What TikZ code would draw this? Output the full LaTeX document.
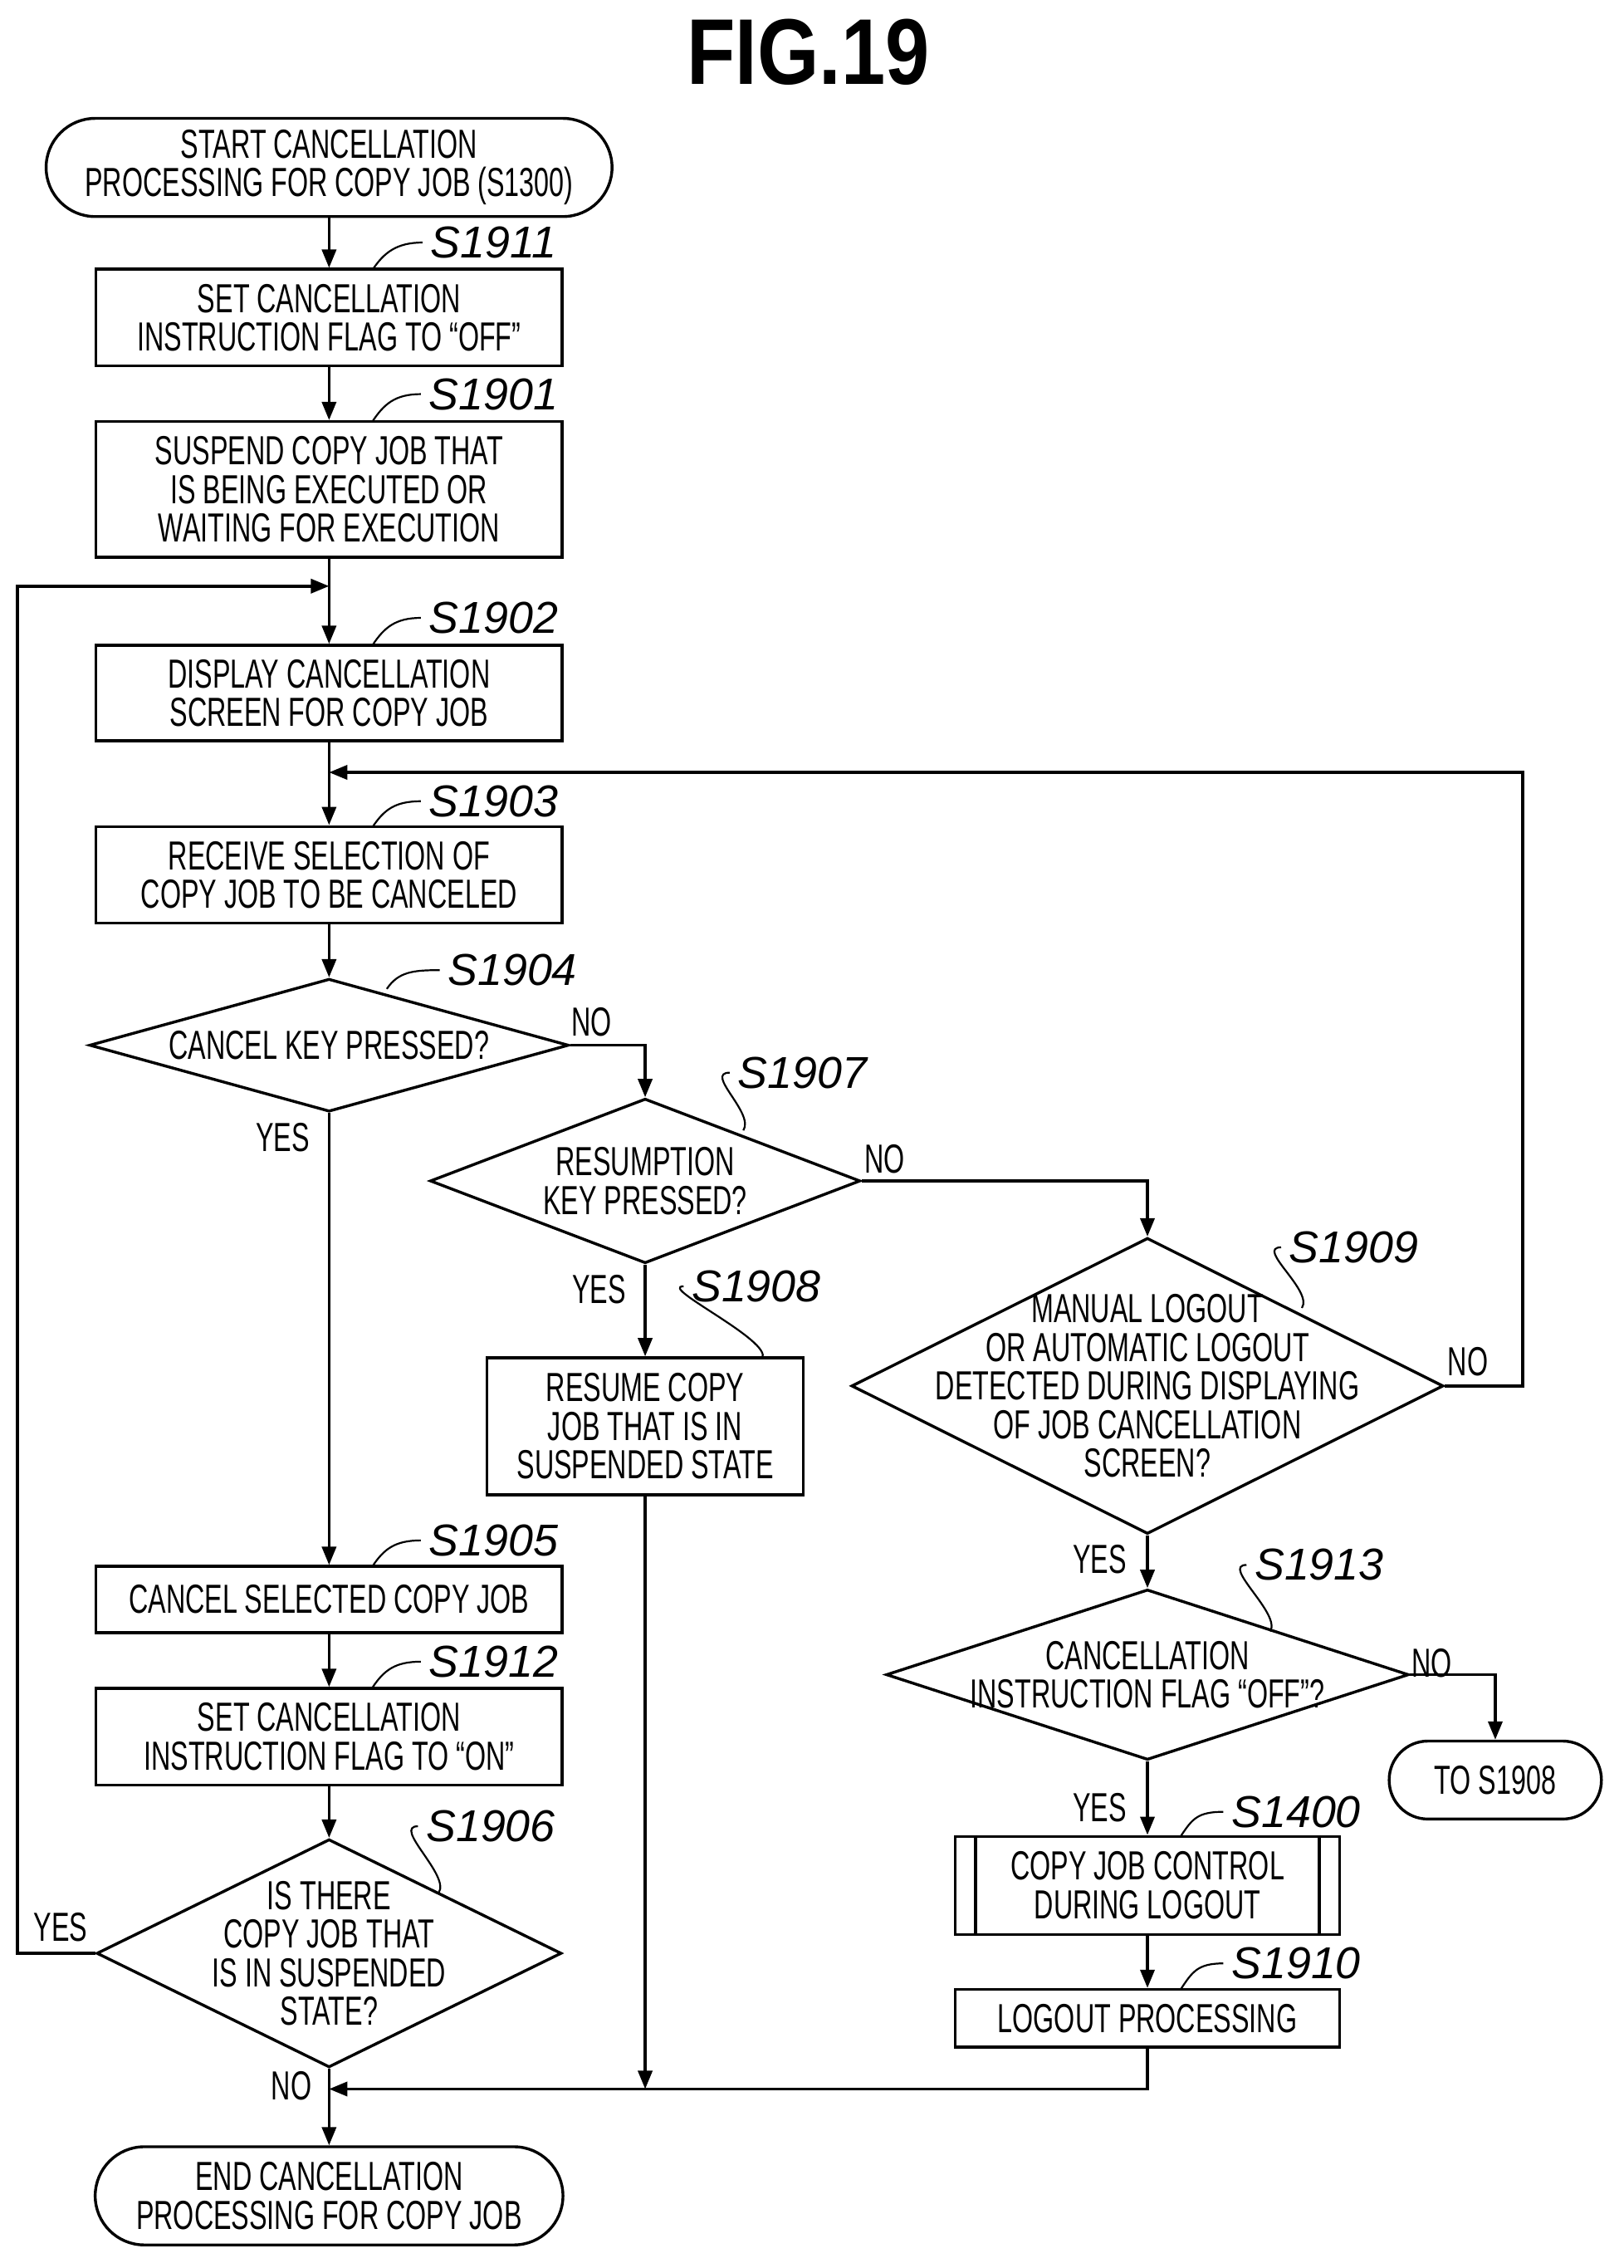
\documentclass[tikz,border=0pt]{standalone}
\usepackage{fontspec}
\setmainfont{Liberation Sans}[FakeStretch=0.66]
\newfontfamily\lblfont{Liberation Sans}
\newfontfamily\titlefont{Liberation Sans}[FakeStretch=0.85]
\usetikzlibrary{shapes.geometric,arrows.meta,positioning}
\tikzset{
  >={Triangle[length=9pt,width=7pt]},
  every path/.style={line width=1.4pt},
  box/.style={rectangle,draw,align=center,minimum width=8.075cm,font=\fontsize{20}{19}\selectfont},
  term/.style={rectangle,rounded corners=0.85cm,draw,align=center,font=\fontsize{20}{19}\selectfont},
  dec/.style={diamond,draw,inner sep=0pt},
  txt/.style={align=center,font=\fontsize{20}{19}\selectfont},
  steplabel/.style={font=\lblfont\itshape\fontsize{22}{22}\selectfont},
  yn/.style={font=\fontsize{20}{20}\selectfont}
}
\newcommand{\steplbl}[4]{% tick start, label position, name, text
  \node[steplabel] (#3) at (#2) {#4};
  \draw[line width=0.9pt] (#1) .. controls +(8,-12) and +(-18,0) .. (#3.west);
}
\begin{document}
\begin{tikzpicture}[x=0.025cm,y=-0.025cm]
\useasboundingbox (0,0) rectangle (1125,1571);
\node[font=\titlefont\bfseries\fontsize{46}{46}\selectfont] (title) at (560,36) {FIG.19};

% left column
\node[term,minimum width=9.8cm,minimum height=1.7cm] (start) at (228,116) {START CANCELLATION\\PROCESSING FOR COPY JOB (S1300)};
\node[box,minimum height=1.675cm] (s1911) at (228,220) {SET CANCELLATION\\INSTRUCTION FLAG TO “OFF”};
\node[box,minimum height=2.35cm] (s1901) at (228,339) {SUSPEND COPY JOB THAT\\IS BEING EXECUTED OR\\WAITING FOR EXECUTION};
\node[box,minimum height=1.65cm] (s1902) at (228,480) {DISPLAY CANCELLATION\\SCREEN FOR COPY JOB};
\node[box,minimum height=1.675cm] (s1903) at (228,606) {RECEIVE SELECTION OF\\COPY JOB TO BE CANCELED};
\node[dec,minimum width=8.3cm,minimum height=2.3cm] (s1904) at (228,724) {};
\node[txt] at (s1904) {CANCEL KEY PRESSED?};
\node[box,minimum height=1.15cm] (s1905) at (228,1108) {CANCEL SELECTED COPY JOB};
\node[box,minimum height=1.675cm] (s1912) at (228,1203) {SET CANCELLATION\\INSTRUCTION FLAG TO “ON”};
\node[dec,minimum width=8.05cm,minimum height=3.95cm] (s1906) at (228,1353) {};
\node[txt] at (s1906) {IS THERE\\COPY JOB THAT\\IS IN SUSPENDED\\STATE?};
\node[term,minimum width=8.1cm,minimum height=1.7cm] (end) at (228,1521) {END CANCELLATION\\PROCESSING FOR COPY JOB};

% middle column
\node[dec,minimum width=7.45cm,minimum height=2.85cm] (s1907) at (447,818) {};
\node[txt] at (s1907) {RESUMPTION\\KEY PRESSED?};
\node[box,minimum width=5.475cm,minimum height=2.375cm] (s1908) at (447,988) {RESUME COPY\\JOB THAT IS IN\\SUSPENDED STATE};

% right column
\node[dec,minimum width=10.25cm,minimum height=5.125cm] (s1909) at (795,960) {};
\node[txt] at (s1909) {MANUAL LOGOUT\\OR AUTOMATIC LOGOUT\\DETECTED DURING DISPLAYING\\OF JOB CANCELLATION\\SCREEN?};
\node[dec,minimum width=9.05cm,minimum height=2.95cm] (s1913) at (795,1160) {};
\node[txt] at (s1913) {CANCELLATION\\INSTRUCTION FLAG “OFF”?};
\node[term,minimum width=3.675cm,minimum height=1.35cm,rounded corners=0.67cm] (to1908) at (1036,1233) {TO S1908};
\node[box,minimum width=6.65cm,minimum height=1.7cm] (s1400) at (795,1306) {COPY JOB CONTROL\\DURING LOGOUT};
\draw ([xshift=0.375cm]s1400.north west) -- ([xshift=0.375cm]s1400.south west);
\draw ([xshift=-0.375cm]s1400.north east) -- ([xshift=-0.375cm]s1400.south east);
\node[box,minimum width=6.65cm,minimum height=1.0cm] (s1910) at (795,1398) {LOGOUT PROCESSING};

% junction points
\coordinate (jtop) at (228,406);
\coordinate (jmid) at (228,535);
\coordinate (jend) at (228,1447);

% connectors
\draw[->] (start) -- (s1911);
\draw[->] (s1911) -- (s1901);
\draw[->] (s1901) -- (s1902);
\draw[->] (s1902) -- (s1903);
\draw[->] (s1903) -- (s1904);
\draw[->] (s1904.south) -- (s1905);
\draw[->] (s1904.east) -| (s1907.north);
\draw[->] (s1907.south) -- (s1908);
\draw[->] (s1907.east) -| (s1909.north);
\draw[->] (s1909.east) -| (1055,535) -- (jmid);
\draw[->] (s1909.south) -- (s1913);
\draw[->] (s1913.east) -| (to1908.north);
\draw[->] (s1913.south) -- (s1400);
\draw[->] (s1400) -- (s1910);
\draw[->] (s1910.south) |- (jend);
\draw[->] (s1908.south) -- (447,1447);
\draw[->] (s1905) -- (s1912);
\draw[->] (s1912) -- (s1906);
\draw[->] (s1906.west) -| (12,406) -- (jtop);
\draw[->] (s1906.south) -- (end);

% branch labels
\node[yn] at (196,788) {YES};
\node[yn] at (410,708) {NO};
\node[yn] at (415,893) {YES};
\node[yn] at (613,803) {NO};
\node[yn] at (1017,943) {NO};
\node[yn] at (762,1080) {YES};
\node[yn] at (992,1152) {NO};
\node[yn] at (762,1252) {YES};
\node[yn] at (42,1335) {YES};
\node[yn] at (202,1445) {NO};

% step labels
\steplbl{258,187}{342,168}{l1911}{S1911}
\steplbl{258,292}{342,273}{l1901}{S1901}
\steplbl{258,447}{342,428}{l1902}{S1902}
\steplbl{258,573}{342,555}{l1903}{S1903}
\steplbl{268,685}{355,672}{l1904}{S1904}
\steplbl{515,783}{556,743}{l1907}{S1907}
\steplbl{528,941}{524,891}{l1908}{S1908}
\steplbl{902,906}{938,864}{l1909}{S1909}
\steplbl{258,1085}{342,1067}{l1905}{S1905}
\steplbl{258,1169}{342,1151}{l1912}{S1912}
\steplbl{304,1311}{340,1265}{l1906}{S1906}
\steplbl{880,1130}{914,1084}{l1913}{S1913}
\steplbl{818,1272}{898,1255}{l1400}{S1400}
\steplbl{818,1378}{898,1360}{l1910}{S1910}
\end{tikzpicture}
\end{document}
